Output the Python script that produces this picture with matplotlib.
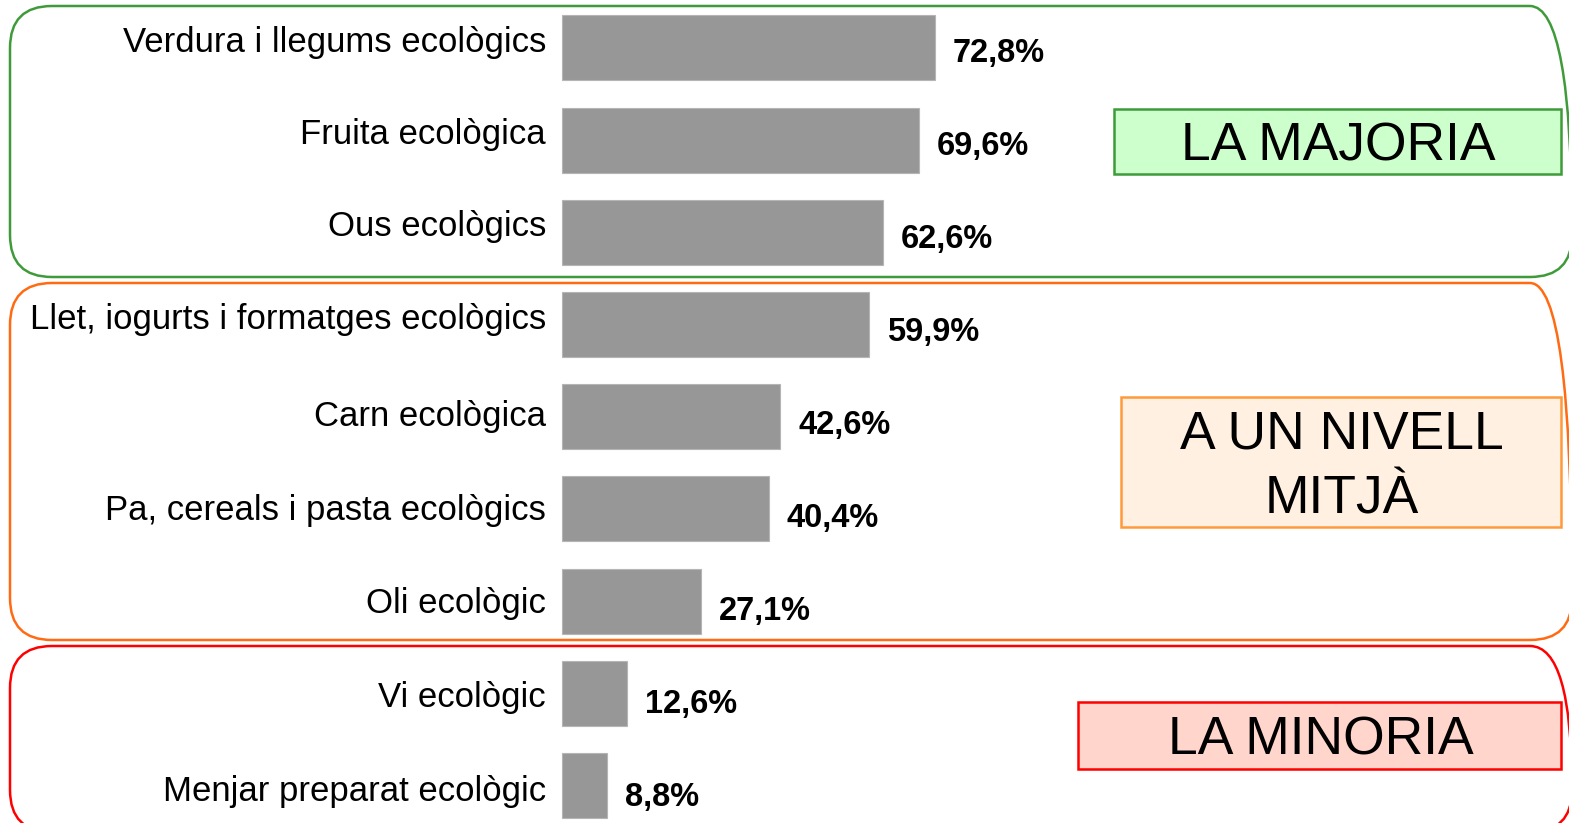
import numpy as np
import matplotlib.pyplot as plt
from matplotlib.patches import FancyBboxPatch, Rectangle

plt.rcParams['font.family'] = ['Liberation Sans', 'DejaVu Sans']

categories = ['Verdura i llegums ecològics', 'Fruita ecològica', 'Ous ecològics',
              'Llet, iogurts i formatges ecològics', 'Carn ecològica',
              'Pa, cereals i pasta ecològics', 'Oli ecològic', 'Vi ecològic',
              'Menjar preparat ecològic']
values = [72.8, 69.6, 62.6, 59.9, 42.6, 40.4, 27.1, 12.6, 8.8]
value_labels = ['72,8%', '69,6%', '62,6%', '59,9%', '42,6%', '40,4%', '27,1%', '12,6%', '8,8%']
groups = ['LA MAJORIA', 'A UN NIVELL\nMITJÀ', 'LA MINORIA']

W, H = 1569, 823
fig = plt.figure(figsize=(W / 100, H / 100), dpi=100)

# overlay in pixel coordinates (y up) for the group frames
ov = fig.add_axes([0, 0, 1, 1])
ov.set_xlim(0, W)
ov.set_ylim(0, H)
ov.axis('off')

frames = [(6, 277, '#3f9b3a'), (283, 640, '#ff6a13'), (646, 832, '#ff0000')]
for top, bot, col in frames:
    ov.add_patch(FancyBboxPatch((10, H - bot), 1572 - 10, bot - top,
                                boxstyle='round,pad=0,rounding_size=42',
                                fc='none', ec=col, lw=1.8, clip_on=False))

tags = [(1114, 109, 1561, 174, '#ccffcc', '#3f9b3a'),
        (1121, 397, 1561, 527, '#fff0e1', '#ff9a3c'),
        (1078, 702, 1561, 769, '#ffd5cc', '#ff0000')]
for (x0, y0, x1, y1, fc, ec), g in zip(tags, groups):
    ov.add_patch(Rectangle((x0, H - y1), x1 - x0, y1 - y0, fc=fc, ec=ec, lw=1.8))
    ov.text((x0 + x1) / 2 + 1, H - (y0 + y1) / 2 - 5, g, ha='center', va='center',
            fontsize=38.5, linespacing=1.36)

# bar axes spanning the whole figure, x=0 at pixel 562
px_per = (935 - 562) / 72.8
row = 92.2
ax = fig.add_axes([0, 0, 1, 1])
ax.patch.set_alpha(0)
ax.set_xlim(-562 / px_per, (W - 562) / px_per)
ax.set_ylim((H - 48) / row, -48 / row)
ax.axis('off')

y = np.arange(len(values))
ax.barh(y, values, height=65 / row, color='#979797', edgecolor='#b5b5b5', lw=0.8)

for i, (c, v, lab) in enumerate(zip(categories, values, value_labels)):
    # label baselines drift downward a little in the lower rows
    off = 4 if i < 4 else 9 + 1.6 * (i - 4)
    ax.text(-16 / px_per, i + off / row, c, ha='right', va='baseline', fontsize=25)
    ax.text(v + 18 / px_per, i * 1.0098 + 0.055, lab, ha='left', va='center',
            fontsize=23.5, fontweight='bold')

fig.savefig('out.png', dpi=100)
